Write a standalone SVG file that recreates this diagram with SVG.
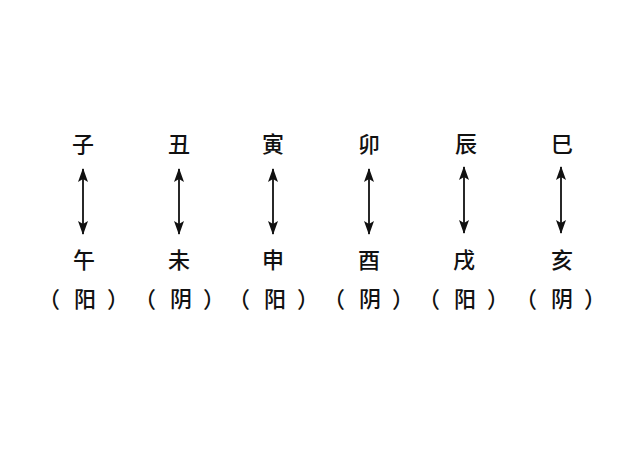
<svg xmlns="http://www.w3.org/2000/svg" width="640" height="450" viewBox="0 0 640 450">
<defs>
<marker id="ah" viewBox="0 0 14 10" refX="13" refY="5" markerWidth="14" markerHeight="10" markerUnits="userSpaceOnUse" orient="auto-start-reverse">
<path d="M0,0 L14,5 L0,10 L3,5 Z" fill="#111"/>
</marker>
<style>
.t{font-family:"Noto Sans CJK SC","Noto Sans CJK JP",sans-serif;font-size:22px;font-weight:500;fill:#111;text-anchor:middle}
.p{font-family:"Noto Sans CJK SC","Noto Sans CJK JP",sans-serif;font-size:22px;font-weight:500;fill:#111}
.a{stroke:#111;stroke-width:1.8;fill:none;marker-start:url(#ah);marker-end:url(#ah)}
</style>
</defs>
<rect width="640" height="450" fill="#fff"/>
<g id="connectors">
<line class="a" x1="83" y1="169" x2="83" y2="234"/>
<line class="a" x1="179" y1="169" x2="179" y2="234"/>
<line class="a" x1="273" y1="169" x2="273" y2="234"/>
<line class="a" x1="369" y1="169" x2="369" y2="234"/>
<line class="a" x1="464" y1="167" x2="464" y2="233"/>
<line class="a" x1="561" y1="167" x2="561" y2="233"/>
</g>
<g id="n1"><text class="t" x="83" y="152">子</text><text class="t" x="84" y="268">午</text><text class="p" y="307"><tspan x="38">（</tspan><tspan x="74">阳</tspan><tspan x="107">）</tspan></text></g>
<g id="n2"><text class="t" x="179" y="152">丑</text><text class="t" x="179" y="268">未</text><text class="p" y="307"><tspan x="134">（</tspan><tspan x="170">阴</tspan><tspan x="203">）</tspan></text></g>
<g id="n3"><text class="t" x="273" y="152">寅</text><text class="t" x="273" y="268">申</text><text class="p" y="307"><tspan x="228">（</tspan><tspan x="264">阳</tspan><tspan x="297">）</tspan></text></g>
<g id="n4"><text class="t" x="369" y="152">卯</text><text class="t" x="369" y="268">酉</text><text class="p" y="307"><tspan x="323">（</tspan><tspan x="359">阴</tspan><tspan x="392">）</tspan></text></g>
<g id="n5"><text class="t" x="466" y="152">辰</text><text class="t" x="464" y="268">戌</text><text class="p" y="307"><tspan x="418">（</tspan><tspan x="454">阳</tspan><tspan x="487">）</tspan></text></g>
<g id="n6"><text class="t" x="562" y="152">巳</text><text class="t" x="562" y="268">亥</text><text class="p" y="307"><tspan x="515">（</tspan><tspan x="551">阴</tspan><tspan x="584">）</tspan></text></g>
</svg>
